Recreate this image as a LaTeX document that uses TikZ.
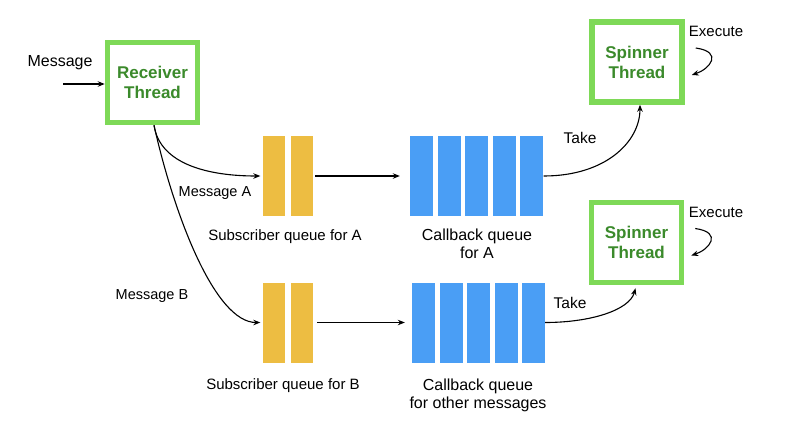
\documentclass[tikz,border=0pt]{standalone}
\usepackage{fontspec}
\setmainfont{Liberation Sans}
\usepackage{xcolor}
\usetikzlibrary{arrows.meta}
\definecolor{threadgreen}{HTML}{7ED957}
\definecolor{threadtext}{HTML}{3B8A2B}
\definecolor{subyellow}{HTML}{EDBD42}
\definecolor{cbblue}{HTML}{4A9EF5}

\begin{document}
\begin{tikzpicture}[x=1pt, y=-1pt,
    thread/.style={draw=threadgreen, line width=5.5pt, fill=white, minimum width=90pt, minimum height=80pt, inner sep=0pt, align=center, text=threadtext, font=\fontsize{17}{20}\selectfont\bfseries},
    subbar/.style={fill=subyellow, minimum width=22pt, minimum height=80pt, inner sep=0pt},
    cbbar/.style={fill=cbblue, minimum width=23pt, minimum height=80pt, inner sep=0pt},
    lbl/.style={font=\fontsize{15}{18}\selectfont, align=center, inner sep=0pt},
    biglbl/.style={lbl, font=\fontsize{16}{18}\selectfont},
    arr/.style={-{Stealth[length=7pt,width=5.5pt]}, line width=1.1pt}]
        \useasboundingbox (0,0) rectangle (797,437);
        % Define the nodes
        \node[thread] (recv) at (152.5,82.5) {Receiver\\Thread};
        \node[thread] (spinA) at (637,62) {Spinner\\Thread};
        \node[thread] (spinB) at (636.5,242.5) {Spinner\\Thread};
        \coordinate (msgin) at (63,84);

        \foreach \i/\x in {1/273.5, 2/302} {
            \node[subbar] (subA\i) at (\x,176) {};
            \node[subbar] (subB\i) at (\x,322.5) {};
        }
        \foreach \i in {1,...,5} {
            \node[cbbar] (cbA\i) at ({421.5+27.6*(\i-1)},176) {};
            \node[cbbar] (cbB\i) at ({423.5+27.5*(\i-1)},322.5) {};
        }

        % Labels
        \node[biglbl] (msg) at (60,63) {Message};
        \node[lbl, font=\fontsize{14.5}{18}\selectfont] (msgA) at (215,193) {Message A};
        \node[lbl, font=\fontsize{14.5}{18}\selectfont] (msgB) at (152,296) {Message B};
        \node[lbl] (subAlbl) at (285,237) {Subscriber queue for A};
        \node[lbl] (subBlbl) at (283,386) {Subscriber queue for B};
        \node[biglbl] (cbAlbl) at (477,244) {Callback queue\\for A};
        \node[biglbl] (cbBlbl) at (478,395.5) {Callback queue\\for other messages};
        \node[lbl, font=\fontsize{15.5}{18}\selectfont] (takeA) at (580,138) {Take};
        \node[lbl, font=\fontsize{15.5}{18}\selectfont] (takeB) at (570,303) {Take};
        \node[lbl] (execA) at (716,31) {Execute};
        \node[lbl] (execB) at (716,212) {Execute};

        % Connectors
        \draw[arr] (msgin) -- (recv.west |- msgin);
        \draw[arr] ([xshift=1.5pt]recv.south) .. controls (160,165) and (210,176) .. ([xshift=-2pt]subA1.west);
        \draw[arr] ([xshift=1.5pt]recv.south) .. controls (174,215) and (215,322.5) .. ([xshift=-2pt]subB1.west);
        \draw[arr, shorten >=10pt] ([xshift=2pt]subA2.east) -- (cbA1.west);
        \draw[arr, shorten >=7pt] ([xshift=4pt]subB2.east) -- (cbB1.west);
        \draw[arr] (cbA5.east) .. controls +(62,0) and +(0,37) .. ([xshift=3pt]spinA.south);
        \draw[arr] (cbB5.east) .. controls +(45,0) and +(-6,22) .. ([shift={(-1,3)}]spinB.south);
        \draw[arr] ([shift={(11,-14)}]spinA.east) .. controls +(28,4) and +(18,-6) .. ([shift={(7,13)}]spinA.east);
        \draw[arr] ([shift={(11,-14)}]spinB.east) .. controls +(28,4) and +(18,-6) .. ([shift={(7,13)}]spinB.east);
    \end{tikzpicture}
\end{document}
